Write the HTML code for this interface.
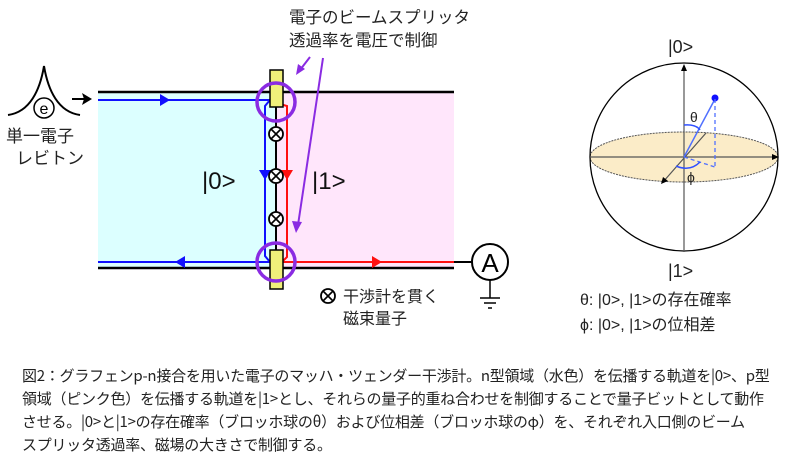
<!DOCTYPE html>
<html><head><meta charset="utf-8"><style>
body{margin:0;background:#fff;width:800px;height:466px;overflow:hidden;position:relative;font-family:"Liberation Sans","Noto Sans CJK JP",sans-serif}
.cap{position:absolute;left:22px;font-size:15px;white-space:nowrap;color:#222;letter-spacing:-0.25px;font-family:"Noto Sans CJK JP",sans-serif;line-height:18px}
</style></head><body>
<svg width="800" height="466" style="position:absolute;left:0;top:0" font-family="Liberation Sans, Noto Sans CJK JP, sans-serif">
<rect x="98" y="93" width="178" height="174" fill="#dcffff"/>
<rect x="276" y="93" width="178" height="174" fill="#ffe6fb"/>
<line x1="98" y1="92" x2="454" y2="92" stroke="#000" stroke-width="2.5"/>
<line x1="98" y1="268" x2="454" y2="268" stroke="#000" stroke-width="2.5"/>
<polyline points="98,100 270,100 265,106 265,256 270,262" fill="none" stroke="#1010ff" stroke-width="2"/>
<line x1="98" y1="262" x2="270" y2="262" stroke="#1010ff" stroke-width="2"/>
<polygon points="170,100 160,94 160,106" fill="#1010ff"/>
<polygon points="175,262 185,256 185,268" fill="#1010ff"/>
<polygon points="265,180 259,170 271,170" fill="#1010ff"/>
<polyline points="280,104 287,106 287,257 282,262 454,262" fill="none" stroke="#ff1010" stroke-width="2"/>
<polygon points="287,180 281,170 293,170" fill="#ff1010"/>
<polygon points="382,262 372,256 372,268" fill="#ff1010"/>
<line x1="276" y1="100" x2="276" y2="262" stroke="#000" stroke-width="2"/>
<rect x="270" y="70" width="13" height="37" fill="#f0f07a" stroke="#000" stroke-width="1.5"/>
<rect x="270" y="250" width="13" height="39" fill="#f0f07a" stroke="#000" stroke-width="1.5"/>
<circle cx="276" cy="102" r="19" fill="none" stroke="#8a2be2" stroke-width="3.5"/>
<circle cx="276" cy="262" r="19" fill="none" stroke="#8a2be2" stroke-width="3.5"/>
<g fill="#fff" stroke="#000" stroke-width="1.8">
<circle cx="276" cy="134" r="7"/><circle cx="276" cy="176" r="7"/><circle cx="276" cy="219" r="7"/>
</g>
<g stroke="#000" stroke-width="1.6">
<path d="M271,129 l10,10 M281,129 l-10,10"/><path d="M271,171 l10,10 M281,171 l-10,10"/><path d="M271,214 l10,10 M281,214 l-10,10"/>
</g>
<line x1="310" y1="57" x2="300" y2="70" stroke="#8a2be2" stroke-width="2"/>
<polygon points="296,75 298,64 305,69" fill="#8a2be2"/>
<line x1="323" y1="58" x2="298" y2="225" stroke="#8a2be2" stroke-width="2"/>
<polygon points="296,233 292,221 302,222" fill="#8a2be2"/>
<text x="289" y="23" font-size="16.5" fill="#222">電子のビームスプリッタ</text>
<text x="289" y="46" font-size="16.5" fill="#222">透過率を電圧で制御</text>
<text x="202" y="189" font-size="24" fill="#111">|0&gt;</text>
<text x="312" y="189" font-size="24" fill="#111">|1&gt;</text>
<path d="M8,115 C30,112 40,90 44,66 C48,90 58,112 80,115" fill="none" stroke="#000" stroke-width="2"/>
<circle cx="44" cy="108" r="10" fill="#fff" stroke="#000" stroke-width="1.5"/>
<text x="44" y="114" font-size="16" text-anchor="middle">e</text>
<line x1="72" y1="99" x2="86" y2="99" stroke="#000" stroke-width="2"/>
<polygon points="92,99 82,93 84,99 82,105"/>
<text x="6" y="142" font-size="17" fill="#222">単一電子</text>
<text x="16" y="164" font-size="17" fill="#222">レビトン</text>
<line x1="454" y1="262" x2="472" y2="262" stroke="#000" stroke-width="2"/>
<circle cx="490" cy="262" r="18" fill="#fff" stroke="#000" stroke-width="2"/>
<text x="490" y="272" font-size="26" text-anchor="middle">A</text>
<line x1="490" y1="280" x2="490" y2="298" stroke="#000" stroke-width="1.5"/>
<line x1="480" y1="298" x2="500" y2="298" stroke="#000" stroke-width="1.5"/>
<line x1="484" y1="303" x2="496" y2="303" stroke="#000" stroke-width="1.5"/>
<line x1="488" y1="308" x2="492" y2="308" stroke="#000" stroke-width="1.5"/>
<circle cx="328" cy="296" r="7" fill="#fff" stroke="#000" stroke-width="1.8"/>
<path d="M323,291 l10,10 M333,291 l-10,10" stroke="#000" stroke-width="1.6"/>
<text x="343" y="302" font-size="16" fill="#222">干渉計を貫く</text>
<text x="343" y="324" font-size="16" fill="#222">磁束量子</text>
<ellipse cx="684" cy="157" rx="94" ry="25" fill="#fbecc8" stroke="#555" stroke-width="1" stroke-dasharray="2,1"/>
<circle cx="684" cy="157" r="94" fill="none" stroke="#000" stroke-width="1.3"/>
<line x1="684" y1="252" x2="684" y2="66" stroke="#555" stroke-width="1.2"/>
<polygon points="684,64 681,71 687,71" fill="#000"/>
<line x1="590" y1="157" x2="776" y2="157" stroke="#555" stroke-width="1.2"/>
<polygon points="779,157 772,154 772,160" fill="#000"/>
<line x1="706" y1="133" x2="663" y2="182" stroke="#555" stroke-width="1.2"/>
<polygon points="661,184 663,177 668,181" fill="#000"/>
<line x1="684" y1="157" x2="715" y2="99" stroke="#5070ff" stroke-width="1.5"/>
<circle cx="715" cy="98" r="3.5" fill="#1010ff"/>
<line x1="715" y1="99" x2="715" y2="167" stroke="#5070ff" stroke-width="1.3" stroke-dasharray="4,3"/>
<line x1="684" y1="157" x2="715" y2="167" stroke="#5070ff" stroke-width="1.3" stroke-dasharray="4,3"/>
<path d="M684,125 Q696,124 700,130" fill="none" stroke="#3050ff" stroke-width="1.5"/>
<path d="M676,166 Q690,172 700,162" fill="none" stroke="#3050ff" stroke-width="1.5"/>
<text x="690" y="122" font-size="14" fill="#222">θ</text>
<text x="687" y="182" font-size="14" fill="#222">ϕ</text>
<text x="668" y="53" font-size="18" fill="#222">|0&gt;</text>
<text x="668" y="277" font-size="18" fill="#222">|1&gt;</text>
<text x="580" y="305" font-size="16" fill="#222">θ: |0&gt;, |1&gt;の存在確率</text>
<text x="580" y="330" font-size="16" fill="#222">ϕ: |0&gt;, |1&gt;の位相差</text>
</svg>
<div class="cap" style="top:367px">図2：グラフェンp-n接合を用いた電子のマッハ・ツェンダー干渉計。n型領域（水色）を伝播する軌道を|0>、p型</div>
<div class="cap" style="top:390px">領域（ピンク色）を伝播する軌道を|1>とし、それらの量子的重ね合わせを制御することで量子ビットとして動作</div>
<div class="cap" style="top:413px">させる。|0>と|1>の存在確率（ブロッホ球のθ）および位相差（ブロッホ球のφ）を、それぞれ入口側のビーム</div>
<div class="cap" style="top:436px">スプリッタ透過率、磁場の大きさで制御する。</div>
</body></html>
